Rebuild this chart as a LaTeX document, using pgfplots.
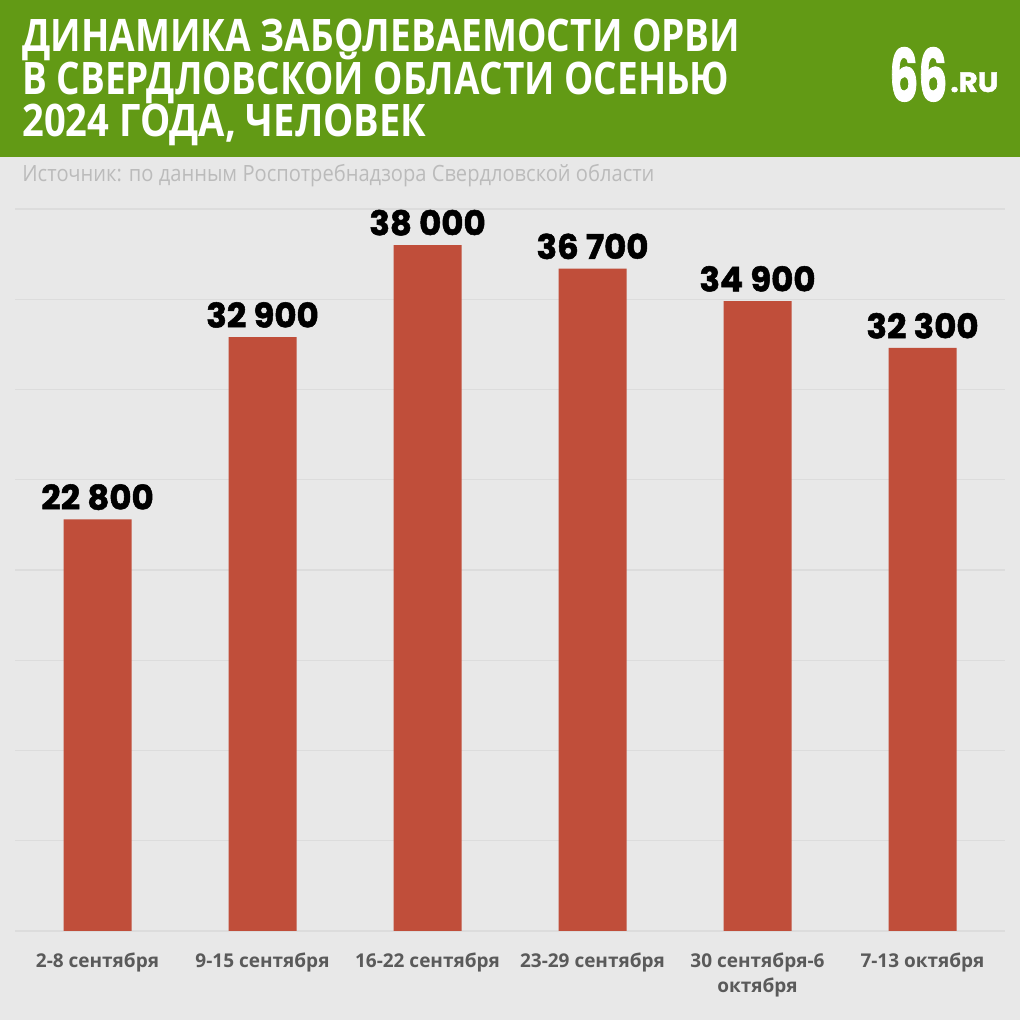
\documentclass[border=0pt]{standalone}
\usepackage{pgfplots}
\pgfplotsset{compat=1.18}
\usepackage{fontspec}
\setmainfont{Open Sans}
\newfontfamily\titlefont{Open Sans}
\newfontfamily\numfont{Poppins}[BoldFeatures={FakeBold=1.5}]
\definecolor{hdr}{HTML}{629A15}
\definecolor{bg}{HTML}{E8E8E8}
\definecolor{barc}{HTML}{C04E3A}
\definecolor{gridc}{HTML}{DCDCDC}
\definecolor{srcc}{HTML}{BBBBBB}
\definecolor{tickc}{HTML}{5A5A5A}
\begin{document}
\begin{tikzpicture}
\useasboundingbox (0,0) rectangle (510pt,510pt);
\fill[bg] (0,0) rectangle (510pt,510pt);
\fill[hdr] (0,431.5pt) rectangle (510pt,510pt);
% title
\node[anchor=base west, inner sep=0, text=white, font=\titlefont\bfseries\fontsize{22.4}{22.4}\selectfont] at (11pt,484pt) {\resizebox{359pt}{\height}{ДИНАМИКА ЗАБОЛЕВАЕМОСТИ ОРВИ}};
\node[anchor=base west, inner sep=0, text=white, font=\titlefont\bfseries\fontsize{22.4}{22.4}\selectfont] at (11pt,462.5pt) {\resizebox{353.5pt}{\height}{В СВЕРДЛОВСКОЙ ОБЛАСТИ ОСЕНЬЮ}};
\node[anchor=base west, inner sep=0, text=white, font=\titlefont\bfseries\fontsize{22.4}{22.4}\selectfont] at (11pt,441.5pt) {\resizebox{202pt}{\height}{2024 ГОДА, ЧЕЛОВЕК}};
% logo
\node[anchor=south west, inner sep=0, text=white, font=\numfont\bfseries\fontsize{36}{36}\selectfont] at (444.5pt,459pt) {\resizebox{29pt}{27pt}{66}};
\node[anchor=base west, inner sep=0, text=white, font=\numfont\bfseries\fontsize{14}{14}\selectfont] at (475pt,464pt) {\resizebox{24pt}{\height}{.RU}};
% source
\node[anchor=base west, inner sep=0, text=srcc, font=\fontsize{11.2}{11.2}\selectfont] at (11pt,419.2pt) {\resizebox{316pt}{\height}{Источник: по данным Роспотребнадзора Свердловской области}};
\begin{axis}[
  at={(7.5pt,44.5pt)}, anchor=south west,
  scale only axis, width=495pt, height=361pt,
  xmin=-0.5, xmax=5.5, ymin=0, ymax=40000,
  axis line style={draw=none},
  ytick={0,5000,...,40000}, yticklabels={}, scaled y ticks=false,
  ymajorgrids, grid style={gridc, line width=0.6pt},
  major tick length=0pt,
  xtick={0,1,2,3,4,5},
  xticklabels={2-8 сентября, 9-15 сентября, 16-22 сентября, 23-29 сентября, {30 сентября-6\\октября}, 7-13 октября},
  xticklabel style={align=center, text=tickc, font=\bfseries\fontsize{9.5}{12.5}\selectfont, anchor=north, yshift=-7.5pt},
  ybar, bar width=34pt,
  nodes near coords={\pgfmathprintnumber[assume math mode=true,fixed,precision=0,1000 sep={\ }]{\pgfplotspointmeta}},
  every node near coord/.append style={font=\numfont\bfseries\fontsize{17}{17}\selectfont, text=black, inner sep=0pt, yshift=4.5pt},
]
\addplot[fill=barc, draw=none] coordinates {(0,22800) (1,32900) (2,38000) (3,36700) (4,34900) (5,32300)};
\end{axis}
\end{tikzpicture}
\end{document}
